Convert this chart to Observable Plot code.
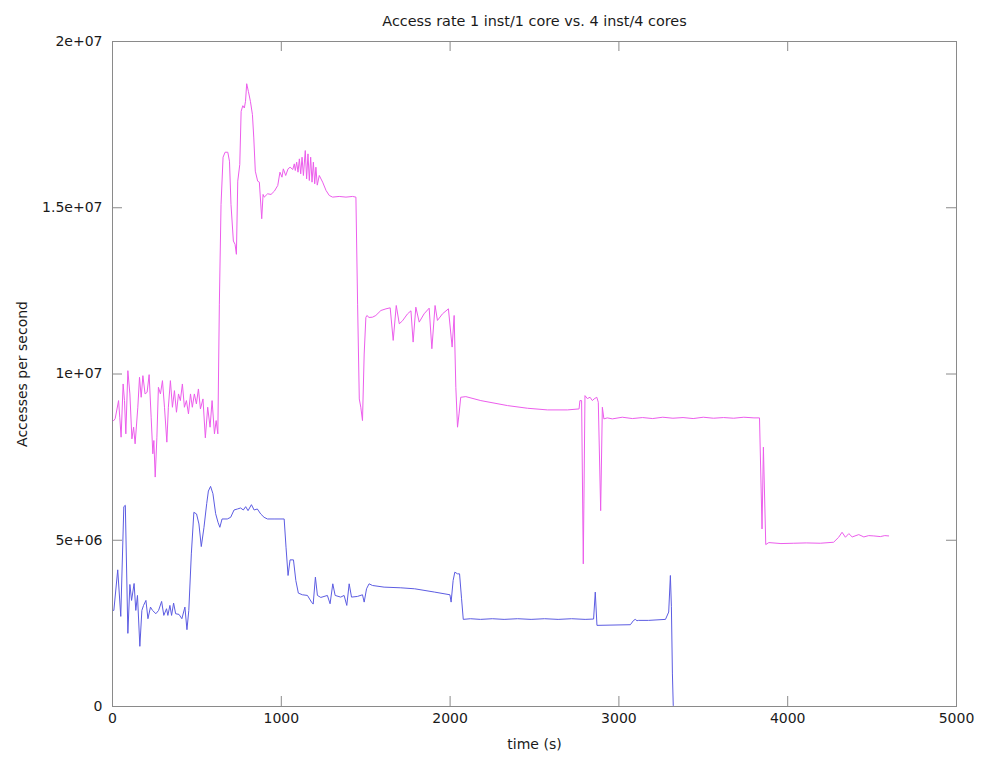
<!DOCTYPE html>
<html><head><meta charset="utf-8">
<script src="https://cdn.jsdelivr.net/npm/d3@7"></script>
<script src="https://cdn.jsdelivr.net/npm/@observablehq/plot@0.6"></script>
<style>html,body{margin:0;padding:0;background:#fff;}</style>
</head><body><div id="chart"></div>
<script>
const title = "Access rate 1 inst/1 core vs. 4 inst/4 cores";
const xLabel = "time (s)";
const yLabel = "Accesses per second";
const xTicks = [0, 1000, 2000, 3000, 4000, 5000];
const xTickLabels = ["0", "1000", "2000", "3000", "4000", "5000"];
const yTicks = [0, 5e6, 1e7, 1.5e7, 2e7];
const yTickLabels = ["0", "5e+06", "1e+07", "1.5e+07", "2e+07"];

// 4 inst/4 cores (magenta): time (s) and accesses per second (millions)
const magentaT = [0,8,16,36,43,51,63,71,79,91,103,115,125,134,150,160,170,180,193,205,217,229,239,245,253,263,272,284,296,308,322,331,343,355,367,379,391,402,414,426,438,450,462,473,485,497,509,521,536,550,564,578,590,604,614,624,
633,643,655,667,683,693,702,716,726,734,742,754,762,772,781,788,795,805,817,829,837,846,860,870,884,892,899,919,939,959,979,992,1004,1012,1026,1040,1052,1068,1077,1083,1091,1099,1107,1115,1123,1131,1142,1150,1158,1166,1174,1182,1190,1198,1205,1213,1225,1245,1265,1284,1304,1343,1383,1422,1442,
1452,1462,1471,1481,1491,1501,1507,1520,1541,1560,1590,1620,1645,1663,1681,1699,1718,1748,1768,1781,1797,1817,1846,1876,1892,1911,1925,1955,1990,2012,2024,2034,2044,2053,2063,2093,2182,2340,2458,2577,2695,2764,2769,2779,2789,2799,2813,2829,2843,2853,2869,2878,2892,2902,2911,2931,2961,
3020,3080,3140,3200,3260,3320,3380,3440,3500,3560,3620,3680,3740,3800,3833,3848,3856,3870,3888,3960,4036,4110,4193,4272,4302,4322,4342,4362,4382,4421,4451,4480,4510,4549,4575,4598];
const magentaV = [8.6,8.6,8.66,9.2,8.7,8.1,9.7,9.2,8.2,10.1,9.4,8.05,8.4,7.9,9.0,9.9,9.3,9.95,9.4,9.45,9.98,8.7,7.6,8.0,6.9,8.1,9.6,9.4,9.8,9.0,7.95,9.0,9.8,9.0,9.5,8.85,9.4,9.2,9.7,9.0,9.2,8.8,9.4,9.0,9.4,9.1,9.55,8.95,9.25,8.08,9.0,8.4,9.2,8.2,8.6,8.2,
12.1,15.1,16.52,16.67,16.67,16.4,15.1,14.0,13.9,13.6,15.8,16.3,17.9,18.07,18.0,18.2,18.73,18.5,18.2,17.8,17.1,16.1,15.8,15.77,14.67,15.4,15.32,15.42,15.4,15.5,15.67,16.07,15.92,16.17,15.97,16.17,16.22,16.15,16.32,16.12,16.37,16.07,16.47,16.02,16.52,15.97,16.72,15.87,16.62,15.82,16.52,15.77,16.37,15.72,16.22,15.68,15.97,15.77,15.52,15.37,15.32,15.34,15.32,15.34,15.32,
12.1,9.25,9.0,8.6,10.6,11.7,11.76,11.7,11.71,11.76,11.91,11.96,11.99,11.01,12.06,11.51,11.6,11.81,11.9,10.96,12.01,11.56,11.81,11.98,10.76,12.06,11.61,11.81,11.96,10.81,11.76,9.6,8.4,8.8,9.3,9.32,9.2,9.05,8.97,8.92,8.92,8.95,9.2,9.2,4.29,9.35,9.26,9.3,9.2,9.25,9.3,9.15,5.89,9.0,8.65,8.68,8.65,
8.7,8.66,8.69,8.66,8.7,8.67,8.69,8.66,8.7,8.67,8.69,8.67,8.7,8.68,8.68,5.34,7.8,4.87,4.93,4.9,4.91,4.92,4.91,4.94,5.09,5.24,5.09,5.2,5.1,5.17,5.1,5.14,5.13,5.11,5.14,5.13];

// 1 inst/1 core (blue): time (s) and accesses per second (millions)
const blueT = [0,8,31,49,67,76,91,103,113,128,138,148,162,174,184,198,210,225,237,257,273,291,304,320,328,340,350,362,374,394,411,429,441,452,467,482,498,512,526,542,558,568,581,595,611,625,636,649,680,700,720,740,759,775,789,803,823,839,858,878,898,918,957,1017,
1028,1040,1052,1072,1086,1101,1125,1155,1179,1189,1202,1214,1234,1273,1289,1305,1319,1352,1372,1388,1402,1416,1451,1481,1491,1505,1520,1540,1609,1708,1790,1909,1999,2006,2018,2028,2044,2056,2068,2078,
2120,2180,2250,2320,2400,2480,2560,2640,2720,2800,2850,2860,2870,3068,3087,3097,3107,3117,3176,3276,3295,3305,3311,3317,3322];
const blueV = [2.89,2.89,4.11,2.71,6.01,6.05,2.2,3.67,3.19,3.7,2.89,3.34,1.81,2.89,3.04,3.19,2.64,2.99,2.89,2.79,2.89,3.16,2.74,2.94,2.74,3.04,2.74,3.11,2.79,2.77,2.64,2.99,2.31,2.89,4.59,5.84,5.79,5.49,4.81,5.39,6.10,6.48,6.62,6.40,5.80,5.54,5.39,5.64,5.64,5.69,5.91,5.94,5.97,5.91,6.01,5.89,6.07,5.91,5.94,5.79,5.69,5.64,5.64,5.64,
4.79,3.94,4.41,4.41,3.79,3.41,3.36,3.34,3.14,3.08,3.89,3.34,3.28,3.34,3.09,3.69,3.34,3.29,3.34,3.04,3.69,3.29,3.31,3.36,3.14,3.54,3.69,3.64,3.59,3.57,3.54,3.44,3.36,3.14,3.79,4.04,3.99,3.99,3.24,2.62,
2.64,2.62,2.64,2.62,2.64,2.62,2.64,2.62,2.64,2.62,2.63,3.44,2.44,2.46,2.59,2.62,2.58,2.59,2.59,2.62,2.84,3.94,3.0,0.98,0.03];

const magenta = magentaT.map((t, i) => ({t, v: magentaV[i] * 1e6}));
const blue = blueT.map((t, i) => ({t, v: blueV[i] * 1e6}));
const xTickData = xTicks.map((v, i) => ({v, label: xTickLabels[i]}));
const yTickData = yTicks.map((v, i) => ({v, label: yTickLabels[i]}));

const frameColor = "#8a8a8a";
const chart = Plot.plot({
  width: 991,
  height: 758,
  marginLeft: 112,
  marginRight: 35,
  marginTop: 41,
  marginBottom: 52,
  x: {domain: [0, 5000], axis: null},
  y: {domain: [0, 2e7], axis: null},
  style: {fontFamily: "'DejaVu Sans', sans-serif", fontSize: "14px", color: "#1a1a1a", background: "#fff"},
  marks: [
    Plot.line(magenta, {x: "t", y: "v", stroke: "#ec5dec", strokeWidth: 1}),
    Plot.line(blue, {x: "t", y: "v", stroke: "#5c5ce2", strokeWidth: 1}),
    Plot.frame({stroke: frameColor}),
    Plot.tickX(xTickData, {x: "v", stroke: frameColor, insetTop: 655}),
    Plot.tickX(xTickData, {x: "v", stroke: frameColor, insetBottom: 655}),
    Plot.tickY(yTickData, {y: "v", stroke: frameColor, insetRight: 834}),
    Plot.tickY(yTickData, {y: "v", stroke: frameColor, insetLeft: 834}),
    Plot.text(xTickData, {x: "v", text: "label", frameAnchor: "bottom", dy: 16}),
    Plot.text(yTickData, {y: "v", text: "label", frameAnchor: "left", textAnchor: "end", dx: -10}),
    Plot.text([title], {text: d => d, frameAnchor: "top", dy: -26, fontSize: 14.4}),
    Plot.text([xLabel], {text: d => d, frameAnchor: "bottom", dy: 42}),
    Plot.text([yLabel], {text: d => d, frameAnchor: "left", textAnchor: "middle", dx: -90, rotate: -90})
  ]
});
document.getElementById("chart").append(chart);
</script>
</body></html>
